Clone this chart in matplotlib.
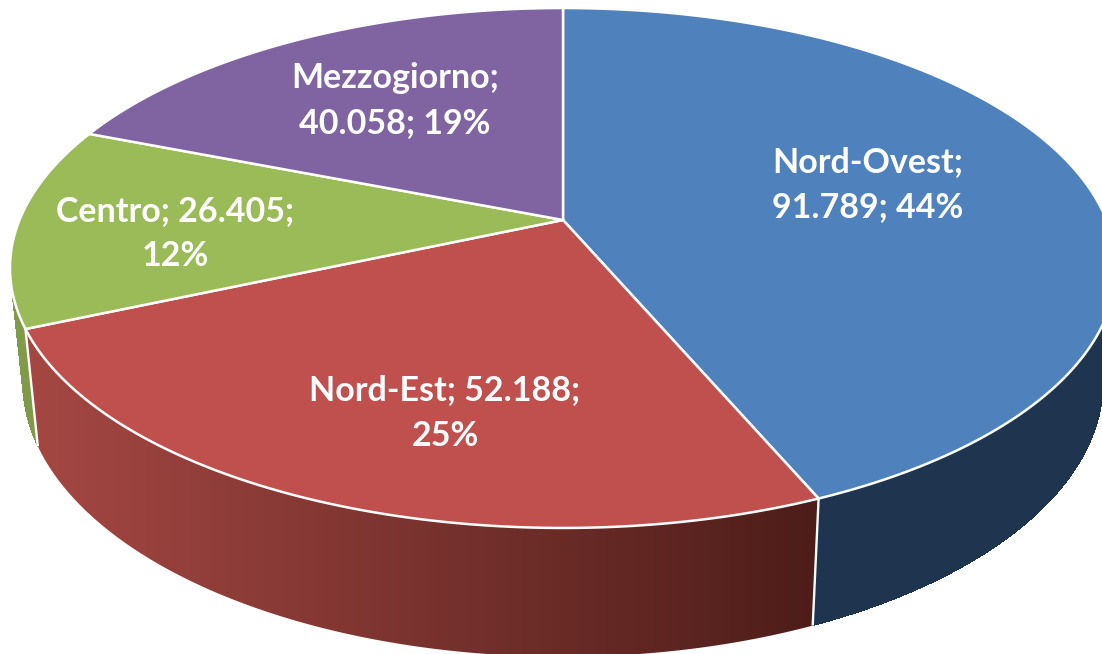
import numpy as np
import matplotlib
matplotlib.use("Agg")
import matplotlib.pyplot as plt
from matplotlib.patches import Polygon

# --- data ---
names = ["Nord-Ovest", "Nord-Est", "Centro", "Mezzogiorno"]
values = [91789, 52188, 26405, 40058]
value_labels = ["91.789", "52.188", "26.405", "40.058"]
percents = [44, 25, 12, 19]

# --- styles ---
top_colors = ["#4f81bd", "#c0504d", "#9bbb59", "#8064a2"]
wall_colors = ["#1f344e", None, "#7f9a48", "#65507f"]
red_wall_left = np.array([166, 72, 68]) / 255
red_wall_right = np.array([77, 29, 25]) / 255
label_templates = ["{n};\n{v}; {p}%", "{n}; {v};\n{p}%", "{n}; {v};\n{p}%", "{n};\n{v}; {p}%"]
label_pos = [(868, 185), (445, 413), (175, 234), (395, 101)]

W, H = 1102, 654
CX = 563.0
PERSP = 0.1846
TOP = dict(cy=220.0, a=543.5, b=251.1)
BOT = dict(cy=331.0, a=531.0, b=265.6)


def project(theta_deg, plane, r=1.0):
    """Disc of the pie -> picture, clockwise from 12 o'clock, with perspective."""
    t = np.radians(theta_deg)
    u, v = r * np.sin(t), r * np.cos(t)
    d = 1 + PERSP * v
    return CX + plane["a"] * u / d, plane["cy"] - plane["b"] * v / d


fig = plt.figure(figsize=(W / 100, H / 100), dpi=100)
ax = fig.add_axes([0, 0, 1, 1])
ax.set_xlim(0, W)
ax.set_ylim(H, 0)
ax.axis("off")

fractions = np.array(values, dtype=float) / sum(values)
edges = np.concatenate([[0], np.cumsum(fractions) * 360])


def rim(a0, a1, plane, n=240):
    th = np.linspace(a0, a1, n)
    return np.column_stack(project(th, plane))


# side walls
for i in range(len(values)):
    a0, a1 = edges[i], edges[i + 1]
    top_rim, bot_rim = rim(a0, a1, TOP), rim(a0, a1, BOT)
    outline = np.vstack([top_rim, bot_rim[::-1]])
    if wall_colors[i] is not None:
        # swept quads fill the silhouette between both rims; the outline hides their seams
        for k in range(len(top_rim) - 1):
            quad = np.vstack([top_rim[k], top_rim[k + 1], bot_rim[k + 1], bot_rim[k]])
            ax.add_patch(Polygon(quad, closed=True, fc=wall_colors[i], ec="none",
                                 antialiased=False, zorder=1))
        ax.add_patch(Polygon(outline, closed=True, fc=wall_colors[i], ec="none", zorder=1.1))
    else:
        clip = Polygon(outline, closed=True, fc="none", ec="none", transform=ax.transData)
        ax.add_patch(clip)
        xl, xr = 20, 822
        ramp = np.linspace(0, 1, 256)[None, :, None]
        img = red_wall_left[None, None, :] * (1 - ramp) + red_wall_right[None, None, :] * ramp
        im = ax.imshow(img, extent=(xl, xr, H + 20, 300), aspect="auto", zorder=1.2,
                       interpolation="bilinear")
        im.set_clip_path(clip)
        ax.set_xlim(0, W)
        ax.set_ylim(H, 0)

# white dividers between the walls on the front side
for a in edges[1:3]:
    x0, y0 = project(a, TOP)
    x1, y1 = project(a, BOT)
    ax.plot([x0, x1], [y0, y1], color="white", lw=1.7, zorder=2, solid_capstyle="butt")

# top face
cx0, cy0 = project(0.0, TOP, r=0.0)
for i in range(len(values)):
    pts = np.vstack([[cx0, cy0], rim(edges[i], edges[i + 1], TOP)])
    ax.add_patch(Polygon(pts, closed=True, fc=top_colors[i], ec="white", lw=1.8,
                         joinstyle="round", zorder=3))

# labels
for name, vl, pc, tpl, (x, y) in zip(names, value_labels, percents, label_templates, label_pos):
    ax.text(x, y, tpl.format(n=name, v=vl, p=pc), color="white", ha="center", va="center",
            family="Lato", weight="bold", fontsize=24.5, linespacing=1.5, zorder=5)

fig.savefig("out.png", dpi=100, facecolor="white")
